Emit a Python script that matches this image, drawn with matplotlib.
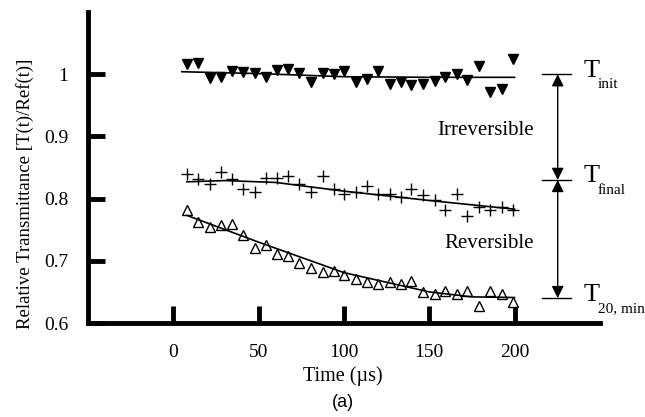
import matplotlib
matplotlib.use("Agg")
import matplotlib.pyplot as plt
import numpy as np

# ---- data ----
time_us = [8.0, 14.5, 21.4, 27.8, 34.5, 41.0, 47.8, 54.3, 60.6, 67.2, 73.9, 80.8, 87.5, 94.0, 100.0,
           107.0, 113.5, 120.2, 127.0, 133.5, 139.4, 146.3, 153.1, 159.4, 166.3, 172.4, 179.2, 185.9, 192.8, 199.2]

t_init = [1.016, 1.018, 0.994, 0.996, 1.005, 1.004, 1.002, 0.995, 1.007, 1.008, 1.002, 0.987, 1.002, 1.000, 1.005,
          0.987, 0.993, 1.005, 0.984, 0.987, 0.982, 0.985, 0.989, 0.995, 1.000, 0.991, 1.013, 0.971, 0.976, 1.024]

t_final = [0.839, 0.831, 0.824, 0.842, 0.831, 0.816, 0.811, 0.833, 0.833, 0.837, 0.823, 0.811, 0.837, 0.815, 0.808,
           0.811, 0.820, 0.808, 0.808, 0.802, 0.816, 0.805, 0.797, 0.782, 0.807, 0.772, 0.786, 0.782, 0.787, 0.782]

t_20min = [0.782, 0.762, 0.754, 0.758, 0.759, 0.742, 0.721, 0.726, 0.711, 0.708, 0.697, 0.689, 0.682, 0.684, 0.677,
           0.671, 0.666, 0.662, 0.666, 0.662, 0.667, 0.650, 0.646, 0.651, 0.646, 0.651, 0.627, 0.651, 0.646, 0.633]

fit_init_x = [5, 50, 100, 150, 200]
fit_init_y = [1.004, 1.001, 0.996, 0.995, 0.995]
fit_final_x = [8, 30, 60, 100, 150, 200]
fit_final_y = [0.827, 0.829, 0.826, 0.812, 0.797, 0.783]
fit_min_x = [8, 50, 100, 150, 175, 200]
fit_min_y = [0.773, 0.730, 0.681, 0.650, 0.642, 0.641]

level_values = [1.0, 0.83, 0.64]
level_subscripts = ["init", "final", "20, min"]
region_labels = ["Irreversible", "Reversible"]

x_ticks = [0, 50, 100, 150, 200]
y_ticks = [0.6, 0.7, 0.8, 0.9, 1.0]
y_tick_labels = ["0.6", "0.7", "0.8", "0.9", "1"]

# ---- figure ----
plt.rcParams['font.family'] = ['Liberation Serif', 'DejaVu Serif']

fig = plt.figure(figsize=(6.45, 4.17), dpi=100)
ax = fig.add_axes([0.1364, 0.2254, 0.7936, 0.7458])

ax.plot(time_us, t_init, linestyle='none', marker='v', markersize=7, color='black')
ax.plot(time_us, t_final, linestyle='none', marker='+', markersize=8, mew=1.0, color='black')
ax.plot(time_us, t_20min, linestyle='none', marker='^', markersize=6.5, mfc='white', mec='black', mew=1.0)

ax.plot(fit_init_x, fit_init_y, color='black', lw=1.2)
ax.plot(fit_final_x, fit_final_y, color='black', lw=1.2)
ax.plot(fit_min_x, fit_min_y, color='black', lw=1.2)

ax.set_xlim(-50, 250)
ax.set_ylim(0.6, 1.1)
ax.set_xticks(x_ticks)
ax.set_yticks(y_ticks)
ax.set_yticklabels(y_tick_labels)
ax.tick_params(direction='in', length=12, width=3.5, labelsize=14)
ax.tick_params(axis='y', pad=14)
ax.tick_params(axis='x', pad=15)
for s in ['top', 'right']:
    ax.spines[s].set_visible(False)
for s in ['left', 'bottom']:
    ax.spines[s].set_linewidth(3.5)

ax.set_xlabel("Time (\u00b5s)", fontsize=14.5)
ax.xaxis.set_label_coords(0.498, -0.14)
ax.set_ylabel("Relative Transmittance [T(t)/Ref(t)]", fontsize=13.5)
ax.yaxis.set_label_coords(-0.105, 0.415)

# right-side annotations
xa = 225.3
for v, sub in zip(level_values, level_subscripts):
    ax.plot([216, 233], [v, v], color='black', lw=1.0, clip_on=False)
    ax.annotate("T", xy=(240.5, v), xytext=(0, 2.5), textcoords='offset points',
                fontsize=19, ha='left', va='center', annotation_clip=False)
    ax.annotate(sub, xy=(240.5, v), xytext=(10.3, -7.5), textcoords='offset points',
                fontsize=11, ha='left', va='center', annotation_clip=False)

for (y0, y1) in [(level_values[0], level_values[1]), (level_values[1], level_values[2])]:
    ax.annotate("", xy=(xa, y0), xytext=(xa, y1),
                arrowprops=dict(arrowstyle='<|-|>', color='black', lw=1.0,
                                mutation_scale=18, shrinkA=0, shrinkB=0),
                annotation_clip=False)

ax.text(183, 0.91, region_labels[0], fontsize=15, ha='center', va='center')
ax.text(185, 0.728, region_labels[1], fontsize=15, ha='center', va='center')

fig.text(0.532, 0.035, "(a)", fontsize=13, ha='center', va='center', family='Liberation Sans')

fig.savefig("out.png", dpi=100)
